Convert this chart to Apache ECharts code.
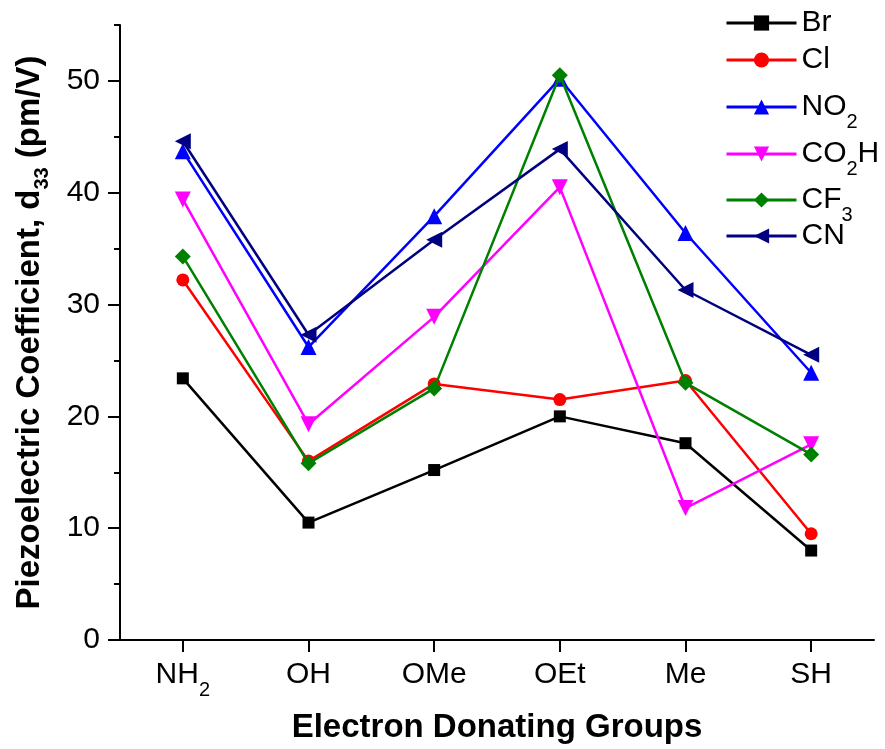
<!DOCTYPE html>
<html><head><meta charset="utf-8">
<script src="https://cdn.jsdelivr.net/npm/echarts@6/dist/echarts.min.js"></script>
<style>html,body{margin:0;padding:0;background:#fff}#c{width:885px;height:749px}</style>
</head><body><div id="c"></div>
<script>
// ---- data ----
const categories = ['NH2', 'OH', 'OMe', 'OEt', 'Me', 'SH'];
const seriesNames = ['Br', 'Cl', 'NO2', 'CO2H', 'CF3', 'CN'];
const brValues   = [23.4, 10.5, 15.2, 20.0, 17.6, 8.0];
const clValues   = [32.2, 16.0, 22.9, 21.5, 23.2, 9.5];
const no2Values  = [43.7, 26.2, 37.9, 50.2, 36.4, 23.9];
const co2hValues = [39.4, 19.3, 28.9, 40.5, 11.8, 17.5];
const cf3Values  = [34.3, 15.8, 22.5, 50.5, 23.0, 16.6];
const cnValues   = [44.6, 27.3, 35.8, 43.9, 31.3, 25.5];
const yMajorTicks = [0, 10, 20, 30, 40, 50];
const yTitle = 'Piezoelectric Coefficient, d33 (pm/V)';
const xTitle = 'Electron Donating Groups';

// ---- styling ----
const FONT = '"Liberation Sans", Arial, sans-serif';
const colors = ['#000000', '#ff0000', '#0000ff', '#ff00ff', '#008000', '#000080'];
const symbols = ['rect', 'circle', 'triangle', 'triangle', 'diamond', 'triangle'];
const symbolSizes = [12, 13, 16, 16, 16, 16];
const symbolRotates = [0, 0, 0, 180, 0, 90];
const valuesList = [brValues, clValues, no2Values, co2hValues, cf3Values, cnValues];
const legendCenters = [25, 62, 99, 146, 192, 238];

function richify(name) {
  return String(name).split(/(\d+)/).filter(s => s !== '')
    .map(s => /^\d+$/.test(s) ? '{s|' + s + '}' : '{m|' + s + '}').join('');
}
const labelRich = {
  m: { fontSize: 30, fontFamily: FONT, color: '#000', lineHeight: 34 },
  s: { fontSize: 20, fontFamily: FONT, color: '#000', lineHeight: 34, padding: [30, 0, 0, 0] }
};

const chart = echarts.init(document.getElementById('c'), null, { renderer: 'canvas' });
const axisLineStyle = { color: '#000', width: 2 };

const option = {
  animation: false,
  backgroundColor: '#fff',
  grid: { left: 118, right: 11, top: 25, bottom: 108, containLabel: false },
  legend: seriesNames.map((n, i) => ({
    data: [n], orient: 'vertical', left: 725, top: legendCenters[i] - 17,
    padding: 0, itemGap: 0, itemWidth: 70, itemHeight: 19,
    lineStyle: { width: 3 },
    formatter: richify,
    textStyle: { rich: labelRich }
  })),
  xAxis: {
    type: 'category', data: categories, boundaryGap: true,
    axisLine: { show: true, lineStyle: axisLineStyle },
    axisTick: { show: true, alignWithLabel: true, length: 12, lineStyle: axisLineStyle },
    axisLabel: { formatter: richify, margin: 18, rich: labelRich },
    splitLine: { show: false },
    name: xTitle, nameLocation: 'middle', nameGap: 71,
    nameTextStyle: { fontSize: 33, fontWeight: 'bold', fontFamily: FONT, color: '#000' }
  },
  yAxis: [{
    type: 'value', min: 0, max: 55, interval: 5,
    axisLine: { show: true, lineStyle: axisLineStyle },
    axisTick: { show: true, length: 6, lineStyle: axisLineStyle },
    axisLabel: {
      margin: 20, fontSize: 30, fontFamily: FONT, color: '#000',
      formatter: v => (v % 10 === 0 ? String(v) : '')
    },
    splitLine: { show: false },
    name: richify(yTitle), nameLocation: 'middle', nameRotate: 90, nameGap: 72,
    nameTextStyle: {
      rich: {
        m: { fontSize: 33, fontWeight: 'bold', fontFamily: FONT, color: '#000', lineHeight: 36 },
        s: { fontSize: 20, fontWeight: 'bold', fontFamily: FONT, color: '#000', lineHeight: 36, padding: [24, 0, 0, 0] }
      }
    }
  }, {
    type: 'value', min: 0, max: 55, interval: 5, position: 'left',
    axisLine: { show: false },
    axisTick: { show: true, length: 12, customValues: yMajorTicks, lineStyle: axisLineStyle },
    axisLabel: { show: false },
    splitLine: { show: false }
  }],
  series: seriesNames.map((n, i) => ({
    name: n, type: 'line', data: valuesList[i], yAxisIndex: 0,
    symbol: symbols[i], symbolSize: symbolSizes[i], symbolRotate: symbolRotates[i],
    showAllSymbol: true,
    itemStyle: { color: colors[i] },
    lineStyle: { color: colors[i], width: 2.5 },
    emphasis: { disabled: true },
    z: 2 + i
  }))
};
chart.setOption(option);
</script>
</body></html>
